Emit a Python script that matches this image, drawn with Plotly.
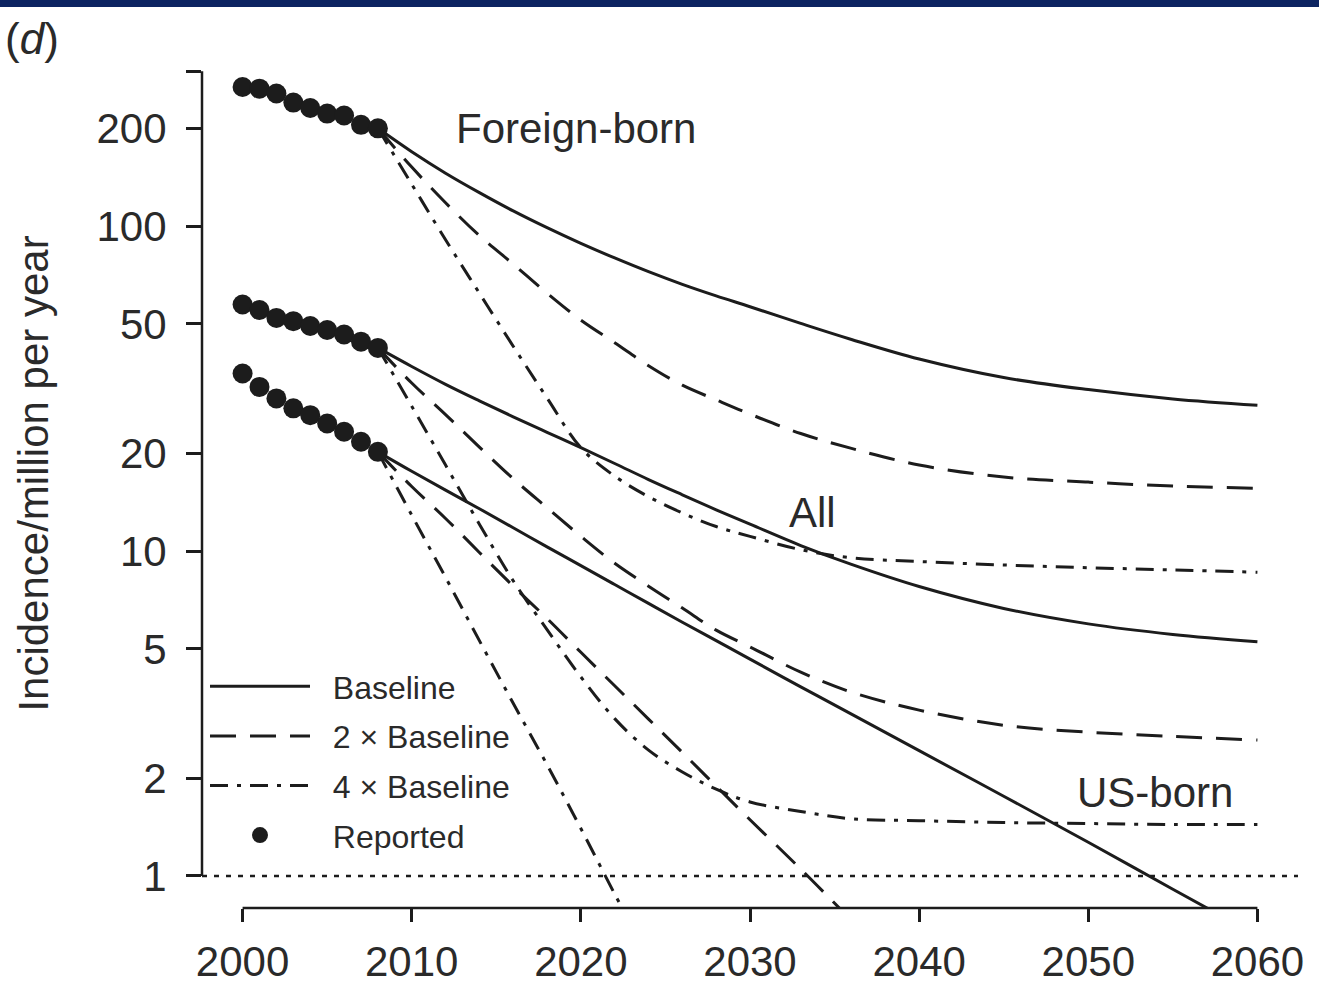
import math
import plotly.graph_objects as go

# ---------------- data ----------------
rep_years = [2000, 2001, 2002, 2003, 2004, 2005, 2006, 2007, 2008]
foreign_reported = [268, 265, 256, 240, 231, 222, 219, 205, 200]
all_reported = [57.4, 55.2, 52.2, 51.0, 49.3, 47.9, 46.4, 44.1, 42.2]
us_reported = [35.2, 32.0, 29.5, 27.5, 26.2, 24.7, 23.3, 21.7, 20.2]

proj_years = [2008, 2010, 2012, 2014, 2016, 2018, 2020, 2022, 2024, 2026,
              2028, 2030, 2033, 2036, 2040, 2045, 2050, 2055, 2060]

foreign_base = [200, 169.4, 145.5, 126.8, 111.4, 98.9, 88.5, 79.8, 72.4, 66.2,
                61.0, 56.5, 50.2, 44.8, 39.0, 34.2, 31.4, 29.4, 28.1]
foreign_2x = [200, 152, 118, 93.5, 76.4, 62.2, 51.4, 43.8, 37.2, 32.4,
              29.2, 26.4, 23.0, 20.7, 18.4, 16.9, 16.3, 15.85, 15.6]
foreign_4x = [200, 134.6, 90.8, 62.2, 42.7, 29.6, 20.8, 17.0, 14.7, 13.1,
              11.9, 11.1, 10.1, 9.53, 9.29, 9.06, 8.89, 8.75, 8.61]

all_base = [42.2, 37.0, 32.6, 29.0, 25.9, 23.2, 20.8, 18.6, 16.6, 14.9,
            13.4, 12.1, 10.4, 9.1, 7.78, 6.66, 5.97, 5.54, 5.26]
all_2x = [42.2, 32.9, 26.3, 20.9, 16.7, 13.6, 11.1, 9.17, 7.8, 6.68,
          5.71, 5.07, 4.24, 3.68, 3.24, 2.91, 2.77, 2.69, 2.62]
all_4x = [42.2, 27.9, 18.4, 12.1, 8.1, 5.73, 4.1, 3.05, 2.44, 2.09,
          1.85, 1.69, 1.58, 1.50, 1.48, 1.46, 1.45, 1.44, 1.44]

us_base = [20.2, 17.6, 15.4, 13.5, 11.8, 10.3, 9.02, 7.89, 6.9, 6.04,
           5.3, 4.65, 3.82, 3.15, 2.43, 1.76, 1.27, 0.91, 0.655]
us_2x = [20.2, 15.8, 12.6, 9.9, 7.8, 6.2, 4.88, 3.85, 3.04, 2.40,
         1.89, 1.49, 1.05, 0.73]
us_4x = [20.2, 12.9, 8.3, 5.3, 3.4, 2.2, 1.4, 0.88, 0.56]

x_ticks = [2000, 2010, 2020, 2030, 2040, 2050, 2060]
y_ticks = [1, 2, 5, 10, 20, 50, 100, 200, 300]
y_ticktext = ["1", "2", "5", "10", "20", "50", "100", "200", ""]

group_labels = ["Foreign-born", "All", "US-born"]
scenario_labels = ["Baseline", "2 \u00d7 Baseline", "4 \u00d7 Baseline"]
reported_label = "Reported"

# ---------------- styling ----------------
INK = "#1c1c1c"
TXT = "#2a2a2a"
FONT = "Liberation Sans, Arial, Helvetica, sans-serif"
W, H = 1319, 993
ML, MR, MT, MB = 202, 21, 39, 85
PW, PH = W - ML - MR, H - MT - MB
dashes = ["solid", "26px,14px", "18px,9px,4px,9px"]
LEGEND_PAD = "\u00a0\u00a0"

fig = go.Figure()

projections = [
    (foreign_base, foreign_2x, foreign_4x),
    (all_base, all_2x, all_4x),
    (us_base, us_2x, us_4x),
]
for gi, series in enumerate(projections):
    for si, vals in enumerate(series):
        fig.add_trace(go.Scatter(
            x=proj_years[:len(vals)], y=vals, mode="lines",
            line=dict(color=INK, width=3, dash=dashes[si], shape="spline", smoothing=1.0),
            name=LEGEND_PAD + scenario_labels[si], legendgroup=scenario_labels[si],
            legendrank=si + 1, showlegend=(gi == 0), hoverinfo="skip",
        ))

for gi, vals in enumerate([foreign_reported, all_reported, us_reported]):
    fig.add_trace(go.Scatter(
        x=rep_years, y=vals, mode="markers",
        marker=dict(color=INK, size=20, line=dict(width=0)),
        name=LEGEND_PAD + reported_label, legendgroup=reported_label, legendrank=4,
        showlegend=(gi == 0), hoverinfo="skip",
    ))

# group labels (annotation y on a log axis is given as log10 value)
label_pos = [(2012.5, 200, "left"), (2033.7, 13.1, "center"), (2053.95, 1.81, "center")]
annotations = []
for (lx, ly, anc), txt in zip(label_pos, group_labels):
    annotations.append(dict(x=lx, y=math.log10(ly), xref="x", yref="y", text=txt,
                            showarrow=False, xanchor=anc, yanchor="middle",
                            font=dict(size=42, color=TXT, family=FONT)))

def px_x(p):
    return (p - ML) / PW

def px_y(p):
    return 1 - (p - MT) / PH

annotations.append(dict(x=px_x(3), y=px_y(38), xref="paper", yref="paper",
                        text="(<i>d</i>)", showarrow=False, xanchor="left",
                        yanchor="middle", font=dict(size=44, color=TXT, family=FONT)))

shapes = [
    # top navy band
    dict(type="rect", xref="paper", yref="paper", x0=px_x(0), x1=px_x(W),
         y0=px_y(7), y1=px_y(0), fillcolor="#0c2461", line=dict(width=0), layer="above"),
    # y axis line from 1 to 300
    dict(type="line", xref="paper", yref="y", x0=0, x1=0, y0=y_ticks[0], y1=y_ticks[-1],
         line=dict(color=INK, width=2.5)),
    # x axis line from 2000 to 2060
    dict(type="line", xref="x", yref="paper", x0=x_ticks[0], x1=x_ticks[-1], y0=0, y1=0,
         line=dict(color=INK, width=2.5)),
    # reference line at 1 per million
    dict(type="line", xref="paper", yref="y", x0=0, x1=1, y0=1, y1=1,
         line=dict(color=INK, width=2.5, dash="5px,7px")),
]

fig.update_layout(
    width=W, height=H,
    margin=dict(l=ML, r=MR, t=MT, b=MB, pad=0),
    paper_bgcolor="white", plot_bgcolor="white",
    font=dict(family=FONT, color=TXT, size=42),
    showlegend=True,
    legend=dict(x=px_x(205), y=px_y(659), xanchor="left", yanchor="top",
                font=dict(size=32, color=TXT, family=FONT),
                bgcolor="rgba(0,0,0,0)", borderwidth=0, tracegroupgap=5,
                itemwidth=100, traceorder="grouped"),
    annotations=annotations,
    shapes=shapes,
    xaxis=dict(range=[1997.6, 2062.4], tickvals=x_ticks, ticks="outside",
               ticklen=13, tickwidth=2.5, tickcolor=INK, showline=False,
               showgrid=False, zeroline=False, tickfont=dict(size=42, color=TXT),
               ticklabelstandoff=4, automargin=False),
    yaxis=dict(type="log", range=[math.log10(0.797), 2.576], tickvals=y_ticks,
               ticktext=y_ticktext, ticks="outside", ticklen=15, tickwidth=2.5,
               tickcolor=INK, showline=False, showgrid=False, zeroline=False,
               tickfont=dict(size=42, color=TXT), ticklabelstandoff=11,
               automargin=False,
               title=dict(text="Incidence/million per year", font=dict(size=42, color=TXT),
                          standoff=34)),
)

fig.write_html("out.html", config={"displayModeBar": False},
               post_script="document.body.style.margin='0';")
